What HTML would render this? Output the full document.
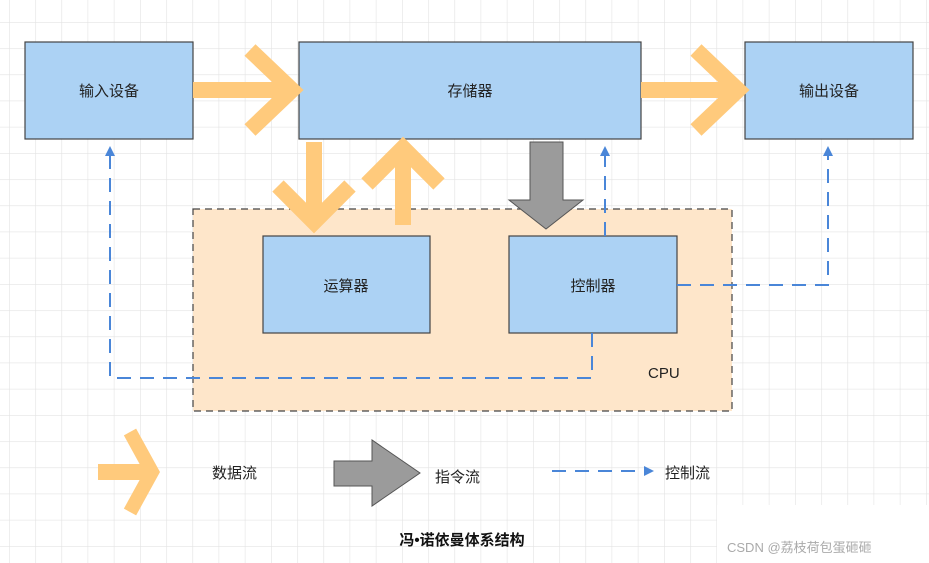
<!DOCTYPE html>
<html><head><meta charset="utf-8"><style>
body{margin:0;width:929px;height:563px;overflow:hidden;background:#fff;font-family:"Liberation Sans","Noto Sans CJK SC",sans-serif}
</style></head><body>
<svg width="929" height="563" xmlns="http://www.w3.org/2000/svg" style="position:absolute;left:0;top:0">
<defs>
<pattern id="g" x="9" y="22" width="26.2" height="26.2" patternUnits="userSpaceOnUse">
<path d="M0 0H26.2M0 0V26.2" stroke="#e3e3e3" stroke-width="1.2" fill="none"/>
</pattern>
<marker id="ah" markerWidth="10" markerHeight="10" refX="8" refY="5" orient="auto" markerUnits="userSpaceOnUse">
<path d="M0,0 L10,5 L0,10 z" fill="#4a86d8"/>
</marker>
</defs>
<rect width="929" height="563" fill="url(#g)"/>
<rect x="717" y="505" width="212" height="58" fill="#fff"/>
<!-- CPU -->
<rect x="193" y="209" width="539" height="202" fill="#fee6ca" stroke="#444" stroke-width="1.2" stroke-dasharray="7,5"/>
<text x="648" y="378" font-size="15" fill="#222" font-family="Liberation Sans, sans-serif">CPU</text>
<!-- boxes -->
<g fill="#acd2f4" stroke="#444" stroke-width="1.2">
<rect x="25" y="42" width="168" height="97"/>
<rect x="299" y="42" width="342" height="97"/>
<rect x="745" y="42" width="168" height="97"/>
<rect x="263" y="236" width="167" height="97"/>
<rect x="509" y="236" width="168" height="97"/>
</g>
<g font-size="15" fill="#222" text-anchor="middle">
<text x="109" y="96">输入设备</text>
<text x="470" y="96">存储器</text>
<text x="829" y="96">输出设备</text>
<text x="346" y="291">运算器</text>
<text x="593" y="291">控制器</text>
</g>
<!-- orange data arrows -->
<g stroke="#ffca7c" stroke-width="16" fill="none" stroke-linecap="butt">
<path d="M193 90H292"/><path d="M250 50L292 90L250 130"/>
<path d="M641 90H738"/><path d="M696 50L738 90L696 130"/>
<path d="M314 142V222"/><path d="M278 186L314 222L350 186"/>
<path d="M403 225V148"/><path d="M367 184L403 148L439 184"/>
<path d="M98 472H152"/><path d="M130 432L152 472L130 512" stroke-width="14"/>
</g>
<!-- gray instruction arrows -->
<path d="M530 142H563V200H583L546 229L509 200H530Z" fill="#9b9b9b" stroke="#555" stroke-width="1"/>
<path d="M334 461H372V440L420 473L372 506V486H334Z" fill="#9b9b9b" stroke="#555" stroke-width="1"/>
<!-- control dashed -->
<g stroke="#4a86d8" stroke-width="2" fill="none" stroke-dasharray="14,9" >
<path d="M605 236V148" marker-end="url(#ah)"/>
<path d="M677 285H828V148" marker-end="url(#ah)"/>
<path d="M592 333V378H110V148" marker-end="url(#ah)"/>
<path d="M552 471H652" marker-end="url(#ah)"/>
</g>
<g font-size="15" fill="#222">
<text x="212" y="478">数据流</text>
<text x="435" y="482">指令流</text>
<text x="665" y="478">控制流</text>
</g>
<text x="462" y="545" font-size="15" font-weight="bold" text-anchor="middle" fill="#111">冯•诺依曼体系结构</text>
<text x="727" y="552" font-size="13" fill="#aaa">CSDN @荔枝荷包蛋砸砸</text>
</svg>
</body></html>
